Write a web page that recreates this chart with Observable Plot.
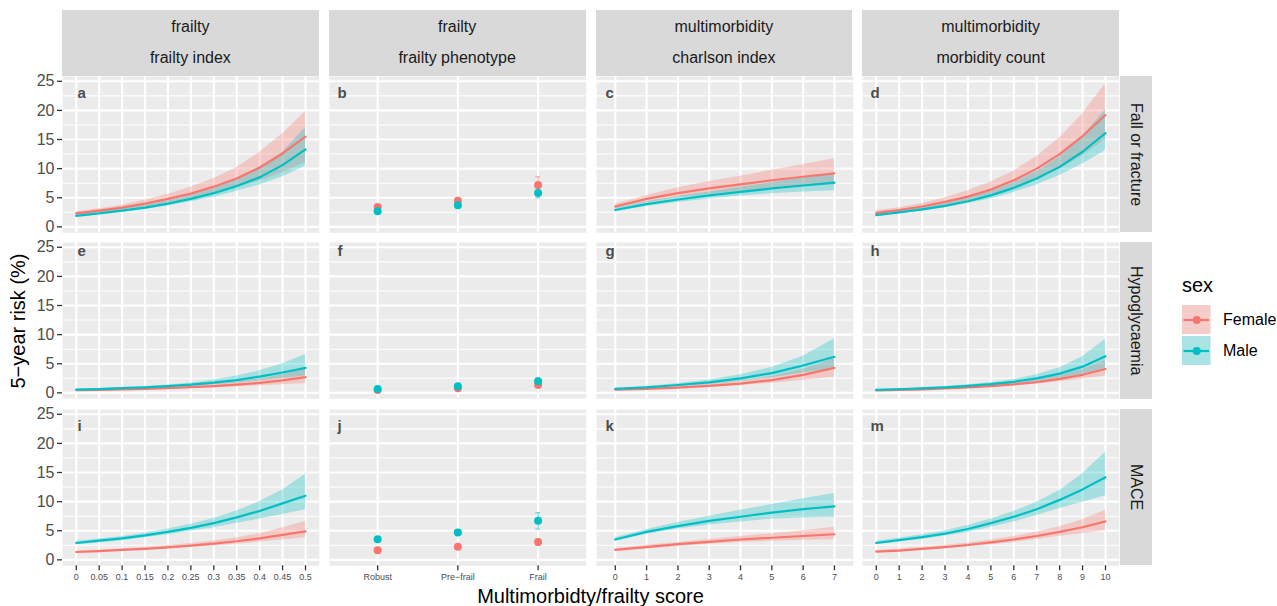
<!DOCTYPE html>
<html><head><meta charset="utf-8">
<script src="https://cdn.jsdelivr.net/npm/d3@7"></script>
<script src="https://cdn.jsdelivr.net/npm/@observablehq/plot@0.6"></script>
<style>
html,body{margin:0;padding:0;background:#fff;}
#chart{position:relative;width:1277px;height:606px;overflow:hidden;font-family:"Liberation Sans",Arial,Helvetica,sans-serif;background:#fff;}
.strip{position:absolute;background:#D9D9D9;color:#1A1A1A;font-size:16px;}
.strip span{position:absolute;left:0;right:0;text-align:center;line-height:20px;height:20px;white-space:nowrap;}
.rstrip{position:absolute;background:#D9D9D9;color:#1A1A1A;font-size:16px;writing-mode:vertical-rl;display:flex;align-items:center;justify-content:center;white-space:nowrap;}
.lbl{position:absolute;white-space:nowrap;color:#000;}
</style>
</head><body><div id="chart"></div>
<script>
// ---------- categories & ticks ----------
const sexes = ["Female", "Male"];
const sexColors = ["#F8766D", "#00BFC4"];
const outcomes = ["Fall or fracture", "Hypoglycaemia", "MACE"];
const measureGroups = ["frailty", "frailty", "multimorbidity", "multimorbidity"];
const measureNames = ["frailty index", "frailty phenotype", "charlson index", "morbidity count"];
const panelLetters = [["a", "b", "c", "d"], ["e", "f", "g", "h"], ["i", "j", "k", "m"]];
const frailtyIndexX = [0, 0.05, 0.1, 0.15, 0.2, 0.25, 0.3, 0.35, 0.4, 0.45, 0.5];
const phenotypeLevels = ["Robust", "Pre\u2212frail", "Frail"];
const phenotypeIdx = [0, 1, 2];
const charlsonX = [0, 1, 2, 3, 4, 5, 6, 7];
const morbidityX = [0, 1, 2, 3, 4, 5, 6, 7, 8, 9, 10];
const yTicks = [0, 5, 10, 15, 20, 25];
const yMinor = [2.5, 7.5, 12.5, 17.5, 22.5];

// ---------- Fall or fracture ----------
const fiFallF   = [2.3, 2.8, 3.3, 4.0, 4.8, 5.7, 6.9, 8.3, 10.2, 12.6, 15.5];
const fiFallFlo = [2.0, 2.4, 2.9, 3.4, 4.1, 4.8, 5.7, 6.7, 7.9, 9.3, 11.0];
const fiFallFhi = [2.6, 3.1, 3.7, 4.6, 5.6, 6.8, 8.3, 10.2, 12.8, 16.0, 19.8];
const fiFallM   = [1.9, 2.3, 2.8, 3.3, 4.0, 4.8, 5.8, 7.0, 8.5, 10.6, 13.3];
const fiFallMlo = [1.7, 2.1, 2.5, 3.0, 3.6, 4.3, 5.1, 6.1, 7.2, 8.6, 10.4];
const fiFallMhi = [2.1, 2.6, 3.1, 3.7, 4.5, 5.4, 6.6, 8.1, 10.0, 12.8, 17.0];

const fpFallF   = [3.4, 4.5, 7.2];
const fpFallFlo = [3.0, 4.1, 5.9];
const fpFallFhi = [3.8, 4.9, 8.6];
const fpFallM   = [2.7, 3.7, 5.8];
const fpFallMlo = [2.4, 3.3, 5.0];
const fpFallMhi = [3.0, 4.1, 6.6];

const ciFallF   = [3.5, 4.8, 5.8, 6.6, 7.3, 8.0, 8.6, 9.2];
const ciFallFlo = [3.1, 4.2, 5.0, 5.6, 6.1, 6.5, 6.9, 7.2];
const ciFallFhi = [3.9, 5.4, 6.7, 7.8, 8.7, 9.7, 10.7, 11.7];
const ciFallM   = [2.9, 3.9, 4.7, 5.4, 6.0, 6.6, 7.1, 7.6];
const ciFallMlo = [2.6, 3.5, 4.2, 4.8, 5.3, 5.7, 6.0, 6.2];
const ciFallMhi = [3.2, 4.3, 5.2, 6.0, 6.8, 7.6, 8.4, 9.1];

const mcFallF   = [2.4, 2.9, 3.5, 4.3, 5.2, 6.4, 8.0, 10.0, 12.5, 15.6, 19.2];
const mcFallFlo = [2.1, 2.5, 3.0, 3.6, 4.4, 5.3, 6.5, 8.0, 9.9, 12.2, 15.0];
const mcFallFhi = [2.8, 3.3, 4.0, 5.0, 6.2, 7.7, 9.6, 12.1, 15.3, 19.4, 24.6];
const mcFallM   = [2.0, 2.5, 3.0, 3.6, 4.4, 5.4, 6.7, 8.3, 10.3, 12.9, 16.1];
const mcFallMlo = [1.8, 2.3, 2.7, 3.3, 4.0, 4.8, 5.9, 7.2, 8.8, 10.8, 13.1];
const mcFallMhi = [2.2, 2.7, 3.3, 4.0, 4.9, 6.1, 7.6, 9.5, 12.0, 15.5, 20.1];

// ---------- Hypoglycaemia ----------
const fiHypoF   = [0.45, 0.52, 0.6, 0.7, 0.82, 0.97, 1.15, 1.4, 1.7, 2.15, 2.7];
const fiHypoFlo = [0.35, 0.4, 0.47, 0.55, 0.64, 0.75, 0.88, 1.03, 1.2, 1.4, 1.6];
const fiHypoFhi = [0.57, 0.65, 0.76, 0.89, 1.05, 1.25, 1.5, 1.85, 2.35, 3.1, 4.3];
const fiHypoM   = [0.55, 0.65, 0.8, 0.95, 1.15, 1.4, 1.75, 2.2, 2.8, 3.5, 4.3];
const fiHypoMlo = [0.45, 0.55, 0.65, 0.8, 0.95, 1.15, 1.4, 1.7, 2.1, 2.5, 2.9];
const fiHypoMhi = [0.65, 0.75, 0.9, 1.1, 1.35, 1.7, 2.2, 2.9, 3.8, 5.0, 6.6];

const fpHypoF   = [0.5, 0.8, 1.35];
const fpHypoFlo = [0.4, 0.7, 1.1];
const fpHypoFhi = [0.6, 0.9, 1.6];
const fpHypoM   = [0.65, 1.15, 2.0];
const fpHypoMlo = [0.5, 1.0, 1.6];
const fpHypoMhi = [0.8, 1.3, 2.5];

const ciHypoF   = [0.55, 0.7, 0.9, 1.2, 1.6, 2.2, 3.1, 4.3];
const ciHypoFlo = [0.45, 0.58, 0.75, 0.95, 1.25, 1.65, 2.15, 2.7];
const ciHypoFhi = [0.65, 0.85, 1.1, 1.5, 2.0, 2.8, 4.0, 5.9];
const ciHypoM   = [0.7, 0.95, 1.35, 1.8, 2.5, 3.4, 4.7, 6.2];
const ciHypoMlo = [0.6, 0.8, 1.1, 1.45, 1.95, 2.6, 3.4, 4.2];
const ciHypoMhi = [0.8, 1.1, 1.6, 2.2, 3.1, 4.4, 6.3, 9.3];

const mcHypoF   = [0.42, 0.5, 0.6, 0.75, 0.92, 1.15, 1.45, 1.85, 2.4, 3.1, 4.1];
const mcHypoFlo = [0.35, 0.42, 0.5, 0.62, 0.76, 0.95, 1.2, 1.5, 1.9, 2.4, 2.9];
const mcHypoFhi = [0.5, 0.6, 0.72, 0.88, 1.08, 1.35, 1.72, 2.25, 3.0, 4.0, 5.6];
const mcHypoM   = [0.5, 0.62, 0.77, 0.95, 1.2, 1.5, 1.9, 2.5, 3.3, 4.5, 6.3];
const mcHypoMlo = [0.42, 0.52, 0.65, 0.8, 1.0, 1.25, 1.55, 1.95, 2.5, 3.2, 4.2];
const mcHypoMhi = [0.6, 0.72, 0.9, 1.1, 1.4, 1.8, 2.3, 3.1, 4.3, 6.2, 9.2];

// ---------- MACE ----------
const fiMaceF   = [1.35, 1.5, 1.7, 1.9, 2.15, 2.45, 2.8, 3.2, 3.7, 4.3, 4.9];
const fiMaceFlo = [1.2, 1.35, 1.5, 1.7, 1.9, 2.15, 2.4, 2.7, 3.05, 3.4, 3.8];
const fiMaceFhi = [1.5, 1.7, 1.9, 2.15, 2.45, 2.8, 3.25, 3.8, 4.5, 5.5, 6.6];
const fiMaceM   = [2.9, 3.3, 3.7, 4.2, 4.8, 5.5, 6.3, 7.3, 8.4, 9.7, 11.0];
const fiMaceMlo = [2.6, 2.9, 3.3, 3.8, 4.3, 4.9, 5.5, 6.3, 7.0, 7.8, 8.6];
const fiMaceMhi = [3.2, 3.6, 4.0, 4.6, 5.3, 6.1, 7.1, 8.4, 10.0, 12.0, 14.7];

const fpMaceF   = [1.65, 2.25, 3.05];
const fpMaceFlo = [1.4, 2.0, 2.5];
const fpMaceFhi = [1.9, 2.5, 3.6];
const fpMaceM   = [3.55, 4.7, 6.7];
const fpMaceMlo = [3.2, 4.3, 5.3];
const fpMaceMhi = [3.9, 5.1, 8.1];

const ciMaceF   = [1.7, 2.2, 2.7, 3.1, 3.5, 3.8, 4.1, 4.4];
const ciMaceFlo = [1.5, 1.9, 2.3, 2.7, 3.0, 3.2, 3.35, 3.45];
const ciMaceFhi = [1.9, 2.5, 3.0, 3.5, 4.0, 4.5, 5.0, 5.6];
const ciMaceM   = [3.5, 4.8, 5.8, 6.7, 7.4, 8.1, 8.7, 9.2];
const ciMaceMlo = [3.2, 4.4, 5.3, 6.0, 6.5, 7.0, 7.2, 7.3];
const ciMaceMhi = [3.8, 5.2, 6.4, 7.5, 8.5, 9.5, 10.5, 11.4];

const mcMaceF   = [1.4, 1.6, 1.9, 2.2, 2.55, 3.0, 3.5, 4.1, 4.8, 5.6, 6.6];
const mcMaceFlo = [1.25, 1.45, 1.7, 1.95, 2.25, 2.6, 3.0, 3.5, 4.05, 4.5, 5.0];
const mcMaceFhi = [1.6, 1.85, 2.15, 2.5, 2.9, 3.4, 4.0, 4.8, 5.7, 6.9, 8.5];
const mcMaceM   = [2.9, 3.4, 3.9, 4.5, 5.3, 6.3, 7.4, 8.7, 10.3, 12.1, 14.2];
const mcMaceMlo = [2.6, 3.1, 3.5, 4.1, 4.7, 5.6, 6.5, 7.6, 8.8, 9.9, 11.0];
const mcMaceMhi = [3.2, 3.7, 4.3, 5.0, 5.9, 7.0, 8.3, 9.9, 11.9, 14.8, 18.5];

// ---------- assemble tables ----------
const xSets = [frailtyIndexX, phenotypeIdx, charlsonX, morbidityX];
const series = [
  [[fiFallF, fiFallFlo, fiFallFhi, fiFallM, fiFallMlo, fiFallMhi],
   [fpFallF, fpFallFlo, fpFallFhi, fpFallM, fpFallMlo, fpFallMhi],
   [ciFallF, ciFallFlo, ciFallFhi, ciFallM, ciFallMlo, ciFallMhi],
   [mcFallF, mcFallFlo, mcFallFhi, mcFallM, mcFallMlo, mcFallMhi]],
  [[fiHypoF, fiHypoFlo, fiHypoFhi, fiHypoM, fiHypoMlo, fiHypoMhi],
   [fpHypoF, fpHypoFlo, fpHypoFhi, fpHypoM, fpHypoMlo, fpHypoMhi],
   [ciHypoF, ciHypoFlo, ciHypoFhi, ciHypoM, ciHypoMlo, ciHypoMhi],
   [mcHypoF, mcHypoFlo, mcHypoFhi, mcHypoM, mcHypoMlo, mcHypoMhi]],
  [[fiMaceF, fiMaceFlo, fiMaceFhi, fiMaceM, fiMaceMlo, fiMaceMhi],
   [fpMaceF, fpMaceFlo, fpMaceFhi, fpMaceM, fpMaceMlo, fpMaceMhi],
   [ciMaceF, ciMaceFlo, ciMaceFhi, ciMaceM, ciMaceMlo, ciMaceMhi],
   [mcMaceF, mcMaceFlo, mcMaceFhi, mcMaceM, mcMaceMlo, mcMaceMhi]]
];
function toRows(xs, s) {
  const rows = [];
  xs.forEach((x, i) => rows.push({x, sex: "Female", mean: s[0][i], lo: s[1][i], hi: s[2][i]}));
  xs.forEach((x, i) => rows.push({x, sex: "Male", mean: s[3][i], lo: s[4][i], hi: s[5][i]}));
  return rows;
}

// ---------- layout ----------
const FONT = '"Liberation Sans", Arial, Helvetica, sans-serif';
const chart = document.getElementById("chart");
const PW = 256.75, PH = 156.3, GAP = 10, X0 = 62, Y0 = 76;
const ML = 60, MR = 8, MT = 8, MB = 34;
const yDomain = [-1.02, 25.82];
const xDomains = [[-0.03, 0.53], [-0.6, 2.6], [-0.6, 7.6], [-0.6, 10.6]];
const xFormats = [d => String(d), i => phenotypeLevels[i], d => String(d), d => String(d)];
const letterDx = [15, 8, 9, 8];
const letterDy = [17, 9, 17];
const colorScale = {domain: sexes, range: sexColors};

function place(el, left, top) {
  el.style.position = "absolute";
  el.style.left = left + "px";
  el.style.top = top + "px";
  chart.appendChild(el);
}

for (let r = 0; r < 3; r++) {
  for (let c = 0; c < 4; c++) {
    const left = X0 + c * (PW + GAP), top = Y0 + r * (PH + GAP);
    const rows = toRows(xSets[c], series[r][c]);
    const marks = [
      Plot.frame({fill: "#EBEBEB", stroke: "none"}),
      Plot.ruleY(yMinor, {stroke: "#ffffff", strokeWidth: 1.1}),
      Plot.ruleY(yTicks, {stroke: "#ffffff", strokeWidth: 2.1}),
      Plot.ruleX(xSets[c], {stroke: "#ffffff", strokeWidth: 2.1})
    ];
    if (c === 1) {
      marks.push(
        Plot.ruleX(rows, {x: "x", y1: "lo", y2: "hi", stroke: "sex", strokeOpacity: 0.5, strokeWidth: 1.3}),
        Plot.ruleY(rows, {y: "lo", x1: d => d.x - 0.03, x2: d => d.x + 0.03, stroke: "sex", strokeOpacity: 0.5, strokeWidth: 1.3}),
        Plot.ruleY(rows, {y: "hi", x1: d => d.x - 0.03, x2: d => d.x + 0.03, stroke: "sex", strokeOpacity: 0.5, strokeWidth: 1.3}),
        Plot.dot(rows, {x: "x", y: "mean", fill: "sex", r: 4})
      );
    } else {
      marks.push(
        Plot.areaY(rows, {x: "x", y1: "lo", y2: "hi", fill: "sex", fillOpacity: 0.3}),
        Plot.lineY(rows, {x: "x", y: "mean", stroke: "sex", strokeWidth: 2.2})
      );
    }
    marks.push(Plot.text([panelLetters[r][c]], {
      frameAnchor: "top-left", text: d => d, dx: letterDx[c], dy: letterDy[r],
      textAnchor: "start", lineAnchor: "middle", fontSize: 15, fontWeight: "bold", fill: "#4D4D4D"
    }));
    if (c === 0) marks.push(Plot.axisY({ticks: yTicks, tickSize: 5, tickPadding: 3, fontSize: 16, color: "#4D4D4D", stroke: "#333333", strokeWidth: 1.3, label: null}));
    if (r === 2) marks.push(Plot.axisX({ticks: xSets[c], tickFormat: xFormats[c], tickSize: 5, tickPadding: 3, fontSize: 9, color: "#4D4D4D", stroke: "#333333", strokeWidth: 1.3, label: null}));
    const svg = Plot.plot({
      width: PW + ML + MR, height: PH + MT + MB,
      marginLeft: ML, marginRight: MR, marginTop: MT, marginBottom: MB,
      style: {background: "transparent", fontFamily: FONT, overflow: "visible"},
      x: {type: "linear", domain: xDomains[c], ...(r === 2 ? {} : {axis: null})},
      y: {type: "linear", domain: yDomain, ...(c === 0 ? {} : {axis: null})},
      color: colorScale,
      marks
    });
    place(svg, left - ML, top - MT);
  }
}

// ---------- strips ----------
for (let c = 0; c < 4; c++) {
  const d = document.createElement("div");
  d.className = "strip";
  d.style.left = (X0 + c * (PW + GAP)) + "px";
  d.style.top = "10px";
  d.style.width = PW + "px";
  d.style.height = "65.5px";
  d.innerHTML = `<span style="top:7px">${measureGroups[c]}</span><span style="top:38px">${measureNames[c]}</span>`;
  chart.appendChild(d);
}
for (let r = 0; r < 3; r++) {
  const d = document.createElement("div");
  d.className = "rstrip";
  d.style.left = "1120px";
  d.style.top = (Y0 + r * (PH + GAP)) + "px";
  d.style.width = "32px";
  d.style.height = PH + "px";
  d.textContent = outcomes[r];
  chart.appendChild(d);
}

// ---------- axis titles ----------
const yt = document.createElement("div");
yt.className = "lbl";
yt.textContent = "5\u2212year risk (%)";
yt.style.fontSize = "20px";
yt.style.left = "18px";
yt.style.top = "320.5px";
yt.style.transform = "translate(-50%,-50%) rotate(-90deg)";
chart.appendChild(yt);

const xt = document.createElement("div");
xt.className = "lbl";
xt.textContent = "Multimorbidty/frailty score";
xt.style.fontSize = "20px";
xt.style.left = "590.5px";
xt.style.top = "596px";
xt.style.transform = "translate(-50%,-50%)";
chart.appendChild(xt);

// ---------- legend ----------
const lt = document.createElement("div");
lt.className = "lbl";
lt.textContent = "sex";
lt.style.fontSize = "20px";
lt.style.left = "1182px";
lt.style.top = "285px";
lt.style.transform = "translate(0,-50%)";
chart.appendChild(lt);

const legend = Plot.plot({
  width: 95, height: 60, margin: 0,
  style: {background: "transparent", fontFamily: FONT, overflow: "visible"},
  x: {domain: [0, 95], range: [0, 95], axis: null},
  y: {type: "band", domain: sexes, range: [0, 60], paddingInner: 0.08, paddingOuter: 0, axis: null},
  color: colorScale,
  marks: [
    Plot.barX(sexes, {x1: 0, x2: 28.5, y: d => d, fill: "#F2F2F2"}),
    Plot.barX(sexes, {x1: 0, x2: 28.5, y: d => d, fill: d => d, fillOpacity: 0.3}),
    Plot.ruleY(sexes, {y: d => d, x1: 1.5, x2: 27, stroke: d => d, strokeWidth: 2.2}),
    Plot.dot(sexes, {x: 14.25, y: d => d, fill: d => d, r: 4}),
    Plot.text(sexes, {x: 40.5, y: d => d, text: d => d, textAnchor: "start", fontSize: 16, fill: "#000000"})
  ]
});
place(legend, 1182, 305);
</script>
</body></html>
